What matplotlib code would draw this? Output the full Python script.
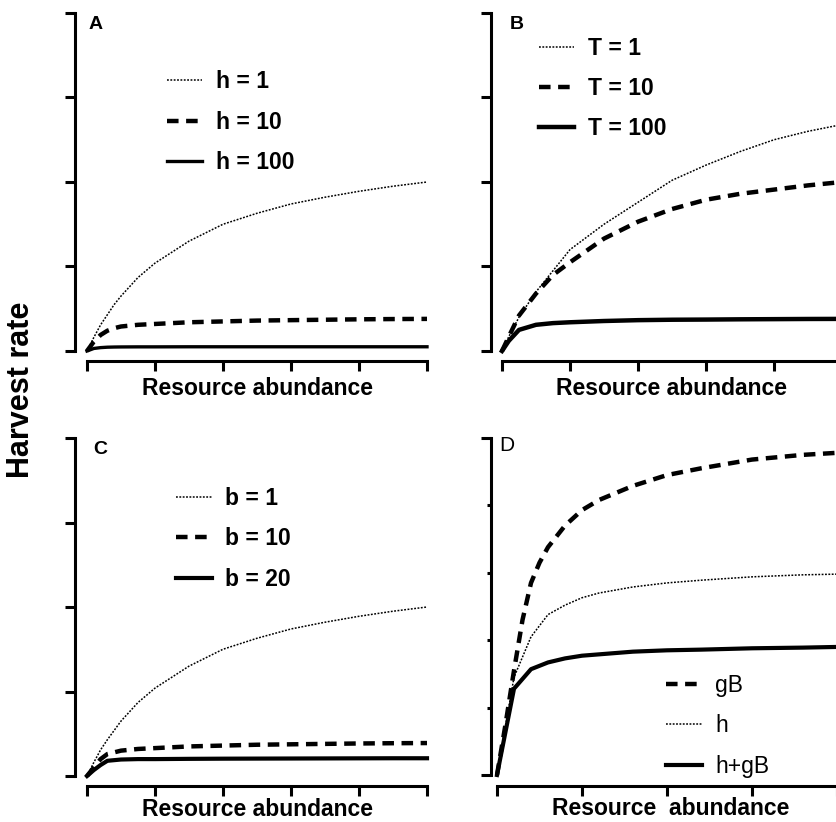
import matplotlib
matplotlib.use("Agg")
import matplotlib.pyplot as plt
from matplotlib.ticker import MultipleLocator

plt.rcParams["font.family"] = ["Liberation Sans", "DejaVu Sans"]

W, H = 836, 822

# === data ===
x_a = [0, 2, 4, 6, 8, 10, 15, 20, 30, 40, 50, 60, 70, 80, 90, 100]
h1 = [0, 0.16, 0.31, 0.43, 0.55, 0.65, 0.87, 1.04, 1.30, 1.50, 1.63, 1.74, 1.82, 1.89, 1.95, 2.0]
h10 = [0, 0.11, 0.19, 0.24, 0.27, 0.29, 0.31, 0.32, 0.34, 0.35, 0.36, 0.365, 0.37, 0.375, 0.378, 0.38]
h100 = [0, 0.03, 0.04, 0.045, 0.047, 0.048, 0.049, 0.049, 0.05, 0.05, 0.05, 0.05, 0.05, 0.05, 0.05, 0.05]

x_b = [0, 2, 5, 10, 15, 20, 30, 40, 50, 60, 70, 80, 90, 100]
t1 = [0, 0.17, 0.40, 0.70, 0.95, 1.20, 1.50, 1.76, 2.02, 2.20, 2.36, 2.50, 2.60, 2.68]
t10 = [0, 0.17, 0.42, 0.68, 0.90, 1.05, 1.33, 1.53, 1.68, 1.79, 1.86, 1.91, 1.96, 2.0]
t100 = [0, 0.12, 0.25, 0.31, 0.33, 0.34, 0.355, 0.365, 0.37, 0.372, 0.375, 0.377, 0.379, 0.38]

x_c = [0, 2, 4, 6, 10, 15, 20, 30, 40, 50, 60, 70, 80, 90, 100]
b1 = [0, 0.16, 0.31, 0.43, 0.65, 0.87, 1.04, 1.30, 1.50, 1.63, 1.74, 1.82, 1.89, 1.95, 2.0]
b10 = [0, 0.10, 0.20, 0.26, 0.30, 0.32, 0.33, 0.35, 0.36, 0.37, 0.375, 0.38, 0.385, 0.388, 0.39]
b20 = [0, 0.07, 0.13, 0.18, 0.195, 0.2, 0.2, 0.203, 0.205, 0.206, 0.207, 0.208, 0.209, 0.21, 0.21]

x_d = [0, 5, 10, 15, 20, 25, 30, 40, 50, 60, 75, 90, 100]
x_gb = [0, 2.5, 5, 7.5, 10, 12.5, 15, 20, 25, 30, 40, 50, 60, 75, 90, 100]
gB = [0, 0.75, 1.55, 2.3, 2.85, 3.15, 3.38, 3.7, 3.93, 4.08, 4.29, 4.45, 4.55, 4.68, 4.75, 4.78]
h_only = [0, 1.45, 2.05, 2.38, 2.52, 2.63, 2.70, 2.79, 2.85, 2.89, 2.94, 2.97, 2.98]
h_gB = [0, 1.28, 1.57, 1.67, 1.73, 1.77, 1.79, 1.83, 1.85, 1.86, 1.88, 1.89, 1.90]

DOT = (0, (1.2, 1.0))
DASH = (0, (2.6, 1.7))


def make_axes(fig, x0, y_top, y_bot, ymax, yout, xout, xtick):
    ax = fig.add_axes([x0 / W, (H - y_bot) / H, 340 / W, (y_bot - y_top) / H])
    ax.set_xlim(0, 100)
    ax.set_ylim(0, ymax)
    for s in ("top", "right"):
        ax.spines[s].set_visible(False)
    ax.spines["left"].set_position(("outward", yout * 0.72))
    ax.spines["bottom"].set_position(("outward", xout * 0.72))
    for s in ("left", "bottom"):
        ax.spines[s].set_linewidth(2.2)
        ax.spines[s].set_capstyle("projecting")
    ax.xaxis.set_major_locator(MultipleLocator(xtick))
    ax.yaxis.set_major_locator(MultipleLocator(1))
    ax.tick_params(width=2.2, labelbottom=False, labelleft=False)
    ax.tick_params(axis="y", length=7)
    ax.tick_params(axis="x", length=7.5)
    ax.patch.set_visible(False)
    return ax


def add_legend(ax, anchor, weight="bold"):
    ax.legend(loc="upper left", bbox_to_anchor=anchor, frameon=False,
              borderpad=0, borderaxespad=0, handlelength=1.55,
              handletextpad=0.6, labelspacing=0.76,
              prop={"size": 16.5, "weight": weight})


def xlabel(ax, y_base, text="Resource abundance", weight="bold", xc=0.5):
    ax.text(xc, y_base, text, transform=ax.transAxes, ha="center",
            va="baseline", fontsize=16.5, fontweight=weight)


fig = plt.figure(figsize=(W / 100, H / 100), dpi=100)

# A
ax = make_axes(fig, 87, 13, 351, 4, 12, 10, 20)
ax.plot(x_a, h1, color="black", lw=1.1, ls=DOT, label="h = 1", clip_on=False)
ax.plot(x_a, h10, color="black", lw=3.2, ls=DASH, label="h = 10", clip_on=False)
ax.plot(x_a, h100, color="black", lw=2.4, label="h = 100", clip_on=False)
add_legend(ax, (0.235, 0.83))
ax.text(0.003, 0.99, "A", transform=ax.transAxes, ha="left", va="top",
        fontsize=14, fontweight="bold")
xlabel(ax, -0.13)

# B
ax = make_axes(fig, 502, 13, 351, 4, 11, 10, 20)
ax.plot(x_b, t1, color="black", lw=1.1, ls=DOT, label="T = 1", clip_on=False)
ax.plot(x_b, t10, color="black", lw=3.2, ls=DASH, label="T = 10", clip_on=False)
ax.plot(x_b, t100, color="black", lw=3.2, label="T = 100", clip_on=False)
add_legend(ax, (0.108, 0.93))
ax.text(0.024, 0.99, "B", transform=ax.transAxes, ha="left", va="top",
        fontsize=14, fontweight="bold")
xlabel(ax, -0.13)

# C
ax = make_axes(fig, 87, 438, 776, 4, 12, 10, 20)
ax.plot(x_c, b1, color="black", lw=1.1, ls=DOT, label="b = 1", clip_on=False)
ax.plot(x_c, b10, color="black", lw=3.2, ls=DASH, label="b = 10", clip_on=False)
ax.plot(x_c, b20, color="black", lw=3.0, label="b = 20", clip_on=False)
add_legend(ax, (0.262, 0.855))
ax.text(0.018, 0.99, "C", transform=ax.transAxes, ha="left", va="top",
        fontsize=14, fontweight="bold")
xlabel(ax, -0.118)

# D
ax = make_axes(fig, 497, 438, 775, 5, 6, 11, 25)
ax.yaxis.set_major_locator(MultipleLocator(5))
ax.yaxis.set_minor_locator(MultipleLocator(1))
ax.tick_params(axis="y", which="minor", length=3, width=2.2)
ax.plot(x_gb, gB, color="black", lw=3.2, ls=DASH, label="gB", clip_on=False)
ax.plot(x_d, h_only, color="black", lw=1.1, ls=DOT, label="h", clip_on=False)
ax.plot(x_d, h_gB, color="black", lw=3.0, label="h+gB", clip_on=False)
add_legend(ax, (0.497, 0.30), weight="normal")
ax.text(0.006, 1.005, "D", transform=ax.transAxes, ha="left", va="top",
        fontsize=15, fontweight="normal")
xlabel(ax, -0.118, "Resource  abundance", "semibold", 0.51)

fig.text(21 / W, 1 - 390 / H, "Harvest rate", rotation=90, ha="center",
         va="center", fontsize=22, fontweight="bold")

fig.savefig("out.png", dpi=100)
